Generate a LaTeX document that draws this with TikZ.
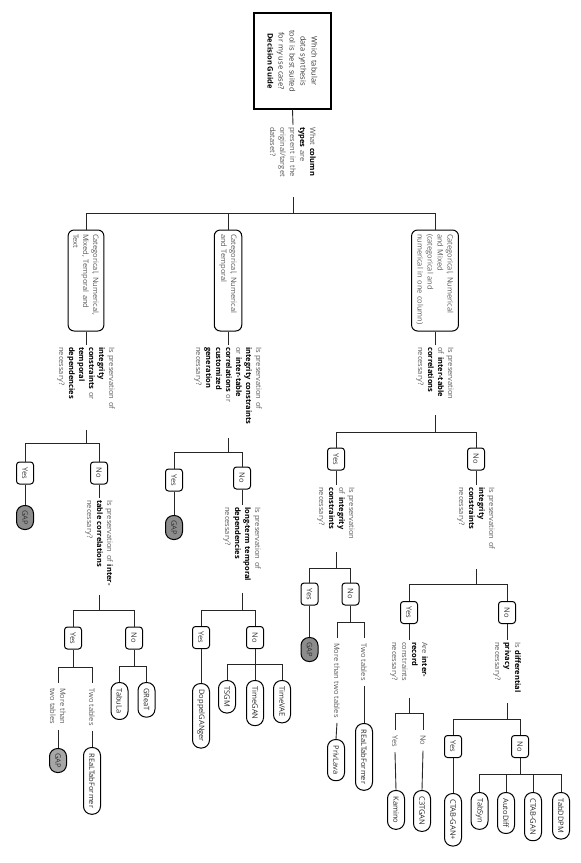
\documentclass[tikz,border=0pt]{standalone}
\usepackage{fontspec}
\setmainfont{Open Sans}
\usepackage{tikz}
\usetikzlibrary{positioning}

\newcommand{\kw}[1]{\textbf{\color{black}#1}}

\begin{document}
\begin{tikzpicture}[
  x=1pt, y=-1pt,
  every node/.style={rotate=-90, font=\fontsize{7.5}{10}\selectfont, text=black!65, inner sep=2pt},
  conn/.style={draw=black!85, line width=0.9pt},
  rootbox/.style={rectangle, draw, line width=1.1pt, minimum width=96pt, minimum height=77pt, align=center, text=black!80, font=\fontsize{7.5}{11}\selectfont},
  typebox/.style={rectangle, draw, line width=1pt, rounded corners=6pt, minimum width=101pt, text width=93pt, inner xsep=4pt, inner ysep=5pt, align=left},
  ques/.style={anchor=west, align=left, inner xsep=2pt},
  ans/.style={rectangle, draw, line width=1pt, rounded corners=3pt, minimum width=22pt, minimum height=17pt, inner sep=0pt, text=black!80},
  tool/.style={rectangle, draw, line width=1pt, rounded corners=8pt, minimum height=17pt, inner xsep=6pt, inner ysep=0pt, anchor=west, text=black!85},
  gapbox/.style={tool, fill=black!45, minimum width=24pt, inner xsep=4pt, text=black!80},
  lbl/.style={anchor=west, align=left, inner xsep=5pt}
]
\useasboundingbox (0,0) rectangle (581,863);

% root and first question
\node[rootbox] (root) at (292.5,61) {Which tabular\\data synthesis\\tool is best suited\\for my use case?\\\kw{Decision Guide}};
\node[ques, text width=68pt] (q0) at (293,125) {What \kw{column}\\\kw{types} are\\present in the\\original/target\\dataset?};

% column types
\node[typebox] (t1) at (86,280.5) {Categorical, Numerical,\\Mixed, Temporal and\\Text};
\node[typebox] (t2) at (228,280.5) {Categorical, Numerical\\and Temporal};
\node[typebox] (t3) at (435,280.5) {Categorical, Numerical\\and Mixed\\(categorical and\\numerical in one column)};

\node[ques, text width=81pt] (ql) at (86,345) {Is preservation of\\\kw{integrity}\\\kw{constraints} or\\\kw{temporal}\\\kw{dependencies}\\necessary?};
\node[ques, text width=89pt] (qm) at (228,345) {Is preservation of\\\kw{integrity constraints}\\or \kw{inter-table}\\\kw{correlations} or\\\kw{customized}\\\kw{generation}\\necessary?};
\node[ques, text width=66pt] (qr) at (435,345) {Is preservation\\of \kw{inter-table}\\\kw{correlations}\\necessary?};

% left branch
\node[ans] (y1) at (25,473) {Yes};
\node[ans] (n1) at (99,473) {No};
\node[gapbox] (g1) at (25,505) {GAP};
\node[ques, text width=93pt] (qln) at (99,498) {Is preservation of \kw{inter-}\\\kw{table correlations}\\necessary?};
\node[ans] (y11) at (73,638) {Yes};
\node[ans] (n11) at (134,638) {No};
\node[lbl] (m1) at (58,683) {More than\\two tables};
\node[lbl] (m2) at (92,683) {Two tables};
\node[gapbox, fill=black!35] (g2) at (58,748) {GAP};
\node[tool] (rtf1) at (92,747) {REaLTabFormer};
\node[tool] (tabula) at (119.5,682) {TabuLa};
\node[tool] (great) at (146.5,682) {GReaT};

% middle branch
\node[ans] (y2) at (174,480) {Yes};
\node[ans] (n2) at (242,478) {No};
\node[gapbox] (g3) at (174,515) {GAP};
\node[ques, text width=84pt] (qmn) at (242,505) {Is preservation of\\\kw{long-term temporal}\\\kw{dependencies}\\necessary?};
\node[ans] (y21) at (201,637.5) {Yes};
\node[ans] (n21) at (255,637.5) {No};
\node[tool] (doppel) at (201,683) {DoppelGANger};
\node[tool] (tsgm) at (227,680) {TSGM};
\node[tool] (timegan) at (255,680) {TimeGAN};
\node[tool] (timevae) at (282,680) {TimeVAE};

% right branch
\node[ans] (y3) at (336,459) {Yes};
\node[ans] (n3) at (476,459) {No};
\node[ques, text width=63pt] (qry) at (336,485) {Is preservation\\of \kw{integrity}\\\kw{constraints}\\necessary?};
\node[ques, text width=80pt] (qrn) at (476,485) {Is preservation of\\\kw{integrity}\\\kw{constraints}\\necessary?};
\node[ans] (y31) at (309.5,594) {Yes};
\node[ans] (n31) at (350.5,594) {No};
\node[gapbox] (g4) at (309.5,637) {GAP};
\node[lbl] (m3) at (337,638) {More than two tables};
\node[lbl] (m4) at (364,638) {Two tables};
\node[tool] (privlava) at (336,739) {PrivLava};
\node[tool] (rtf2) at (364,723) {REaLTabFormer};

\node[ans] (y32) at (409,612.5) {Yes};
\node[ans] (n32) at (507,612.5) {No};
\node[ques, text width=54pt] (qrny) at (409,640) {Are \kw{inter-}\\\kw{record}\\constraints\\necessary?};
\node[ques, text width=59pt] (qrnn) at (507,640) {Is \kw{differential}\\\kw{privacy}\\necessary?};
\node[lbl] (k1) at (395,730) {Yes};
\node[lbl] (k2) at (423,730) {No};
\node[tool] (kamino) at (396,790) {Kamino};
\node[tool] (c3tgan) at (422,790) {C3TGAN};
\node[ans] (y33) at (453,746.5) {Yes};
\node[ans] (n33) at (520,746.5) {No};
\node[tool] (ctabp) at (453,793) {CTAB-GAN+};
\node[tool] (tabsyn) at (479.5,792) {TabSyn};
\node[tool] (autodiff) at (506,792) {AutoDiff};
\node[tool] (ctab) at (533,792) {CTAB-GAN};
\node[tool] (tabddpm) at (561,792) {TabDDPM};

% connectors (west = top end, east = bottom end of the turned nodes)
\draw[conn] (root.east) -- (q0.west);
\draw[conn] (q0.east) -- ++(0,16) -| (t1.west) (q0.east) ++(0,16) -| (t2.west) (q0.east) ++(0,16) -| (t3.west);
\draw[conn] (t1.east) -- (ql.west);
\draw[conn] (t2.east) -- (qm.west);
\draw[conn] (t3.east) -- (qr.west);

\draw[conn] (ql.east) -- ++(0,13) -| (y1.west) (ql.east) ++(0,13) -| (n1.west);
\draw[conn] (y1.east) -- (g1.west);
\draw[conn] (n1.east) -- (qln.west);
\draw[conn] (qln.east) -- ++(0,15) -| (y11.west) (qln.east) ++(0,15) -| (n11.west);
\draw[conn] (y11.east) -- ++(0,18) -| (m1.west) (y11.east) ++(0,18) -| (m2.west);
\draw[conn] (m1.east) -- (g2.west);
\draw[conn] (m2.east) -- (rtf1.west);
\draw[conn] (n11.east) -- ++(0,17) -| (tabula.west) (n11.east) ++(0,17) -| (great.west);

\draw[conn] (qm.east) -- ++(0,14) -| (y2.west) (qm.east) ++(0,14) -| (n2.west);
\draw[conn] (y2.east) -- (g3.west);
\draw[conn] (n2.east) -- (qmn.west);
\draw[conn] (qmn.east) -- ++(0,17) -| (y21.west) (qmn.east) ++(0,17) -| (n21.west);
\draw[conn] (y21.east) -- (doppel.west);
\draw[conn] (n21.east) -- ++(0,15) -| (tsgm.west) (n21.east) ++(0,15) -| (timegan.west) (n21.east) ++(0,15) -| (timevae.west);

\draw[conn] (qr.east) -- ++(0,17) -| (y3.west) (qr.east) ++(0,17) -| (n3.west);
\draw[conn] (y3.east) -- (qry.west);
\draw[conn] (n3.east) -- (qrn.west);
\draw[conn] (qry.east) -- ++(0,16) -| (y31.west) (qry.east) ++(0,16) -| (n31.west);
\draw[conn] (y31.east) -- (g4.west);
\draw[conn] (n31.east) -- ++(0,17) -| (m3.west) (n31.east) ++(0,17) -| (m4.west);
\draw[conn] (m3.east) -- (privlava.west);
\draw[conn] (m4.east) -- (rtf2.west);
\draw[conn] (qrn.east) -- ++(0,15) -| (y32.west) (qrn.east) ++(0,15) -| (n32.west);
\draw[conn] (y32.east) -- (qrny.west);
\draw[conn] (n32.east) -- (qrnn.west);
\draw[conn] (qrny.east) -- ++(0,15) -| (k1.west) (qrny.east) ++(0,15) -| (k2.west);
\draw[conn] (k1.east) -- (kamino.west);
\draw[conn] (k2.east) -- (c3tgan.west);
\draw[conn] (qrnn.east) -- ++(0,16) -| (y33.west) (qrnn.east) ++(0,16) -| (n33.west);
\draw[conn] (y33.east) -- (ctabp.west);
\draw[conn] (n33.east) -- ++(0,16) -| (tabsyn.west) (n33.east) ++(0,16) -| (autodiff.west) (n33.east) ++(0,16) -| (ctab.west) (n33.east) ++(0,16) -| (tabddpm.west);
\end{tikzpicture}
\end{document}
